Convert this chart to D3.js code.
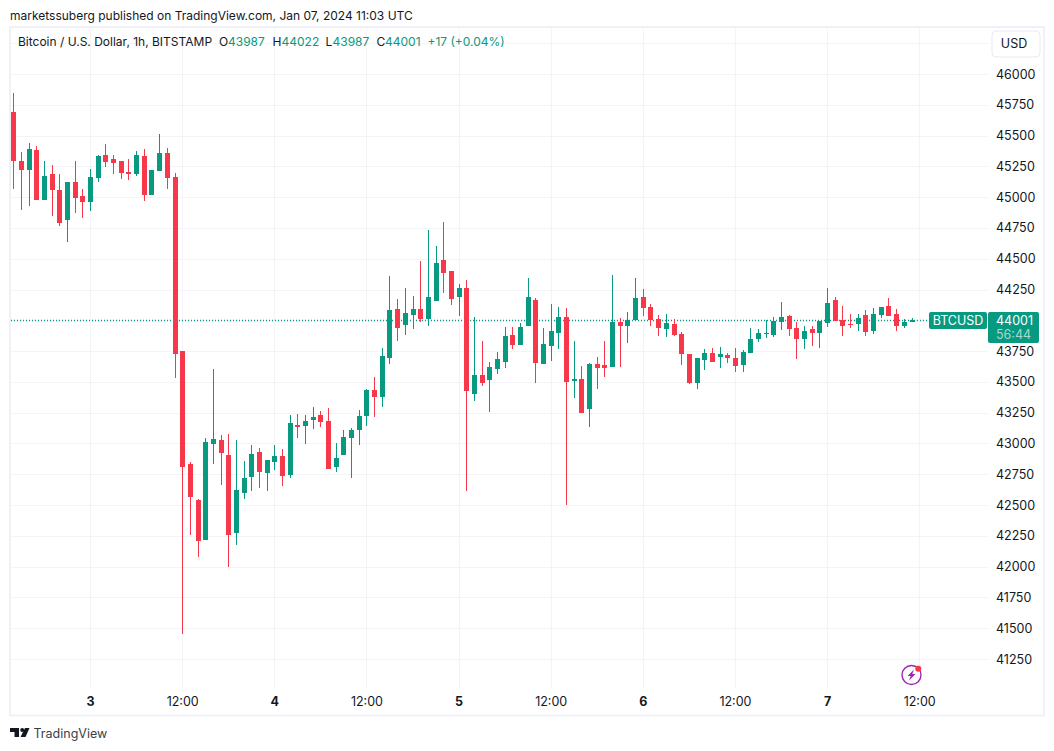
<!DOCTYPE html>
<html>
<head>
<meta charset="utf-8">
<title>BTCUSD 1h</title>
<script src="https://cdn.jsdelivr.net/npm/d3@7"></script>
<style>
    html, body { margin: 0; padding: 0; background: #fff; }
    svg { display: block; }
    text { font-family: Inter, "Noto Sans", sans-serif; }
</style>
</head>
<body>
<div id="chart"></div>
<script>
// hourly candles, Jan 2 14:00 to Jan 7 11:00
var opens = [45691, 45293, 45220, 45383, 44977, 45188, 45058, 44814, 45123, 45009,
    44960, 45155, 45342, 45310, 45293, 45204, 45188, 45334, 45017, 45212,
    45358, 45164, 43751, 42833, 42541, 42216, 42995, 43028, 42906, 42273,
    42597, 42727, 42930, 42760, 42849, 42898, 42744, 43150, 43142, 43190,
    43231, 43182, 42809, 42906, 43044, 43109, 43223, 43434, 43377, 43694,
    44092, 43962, 44043, 44092, 44010, 44157, 44490, 44400, 44189, 44262,
    43401, 43556, 43515, 43604, 43661, 43880, 43799, 43954, 44165, 43645,
    43791, 43897, 44027, 43507, 43523, 43280, 43645, 43637, 43621, 43986,
    43954, 44002, 44189, 44108, 44010, 43929, 43970, 43889, 43726, 43491,
    43677, 43734, 43702, 43718, 43694, 43637, 43734, 43848, 43888, 43880,
    43986, 44035, 43937, 43848, 43929, 43897, 43978, 44165, 44002, 43970,
    43970, 44043, 43913, 44043, 44116, 44051, 43953, 43987];
var highs = [45846, 45366, 45440, 45415, 45293, 45261, 45188, 45123, 45293, 45066,
    45228, 45342, 45432, 45342, 45293, 45310, 45375, 45391, 45220, 45513,
    45399, 45196, 43751, 42849, 42549, 43044, 43604, 43068, 43077, 43028,
    42857, 42987, 42963, 42865, 42987, 42955, 43231, 43239, 43231, 43296,
    43263, 43288, 43004, 43109, 43125, 43272, 43442, 43540, 43775, 44360,
    44173, 44262, 44197, 44481, 44733, 44603, 44798, 44400, 44295, 44327,
    44027, 43832, 43661, 43742, 43945, 43945, 43978, 44343, 44181, 43937,
    44132, 44108, 44100, 43832, 43629, 43653, 43702, 43832, 44368, 44019,
    44067, 44343, 44254, 44132, 44043, 44051, 44010, 43905, 43726, 43694,
    43767, 43775, 43783, 43734, 43775, 43759, 43937, 43929, 44002, 44027,
    44148, 44043, 43986, 43953, 43953, 43994, 44262, 44189, 44116, 44051,
    44051, 44083, 44100, 44108, 44181, 44091, 44010, 44022];
var lows = [45066, 44896, 44928, 44977, 44977, 44847, 44766, 44636, 44871, 44830,
    44887, 45123, 45245, 45188, 45147, 45139, 45172, 44969, 45017, 45212,
    45066, 43532, 41452, 42256, 42078, 42216, 42833, 42662, 41996, 42175,
    42549, 42614, 42638, 42614, 42784, 42654, 42719, 43044, 42995, 43117,
    43133, 42792, 42768, 42906, 42719, 42987, 43142, 43215, 43296, 43645,
    43832, 43880, 43929, 43986, 43954, 44157, 44222, 44124, 44035, 42614,
    43344, 43466, 43255, 43564, 43612, 43767, 43799, 43954, 43491, 43645,
    43669, 43767, 42500, 43369, 43247, 43133, 43442, 43539, 43621, 43621,
    43816, 44002, 44035, 43954, 43872, 43864, 43872, 43637, 43483, 43442,
    43596, 43661, 43612, 43653, 43580, 43580, 43734, 43824, 43856, 43864,
    43921, 43872, 43685, 43767, 43791, 43775, 43945, 43994, 43872, 43937,
    43913, 43872, 43888, 44018, 44035, 43913, 43937, 43987];
var closes = [45293, 45220, 45391, 44977, 45172, 45058, 44790, 45123, 44993, 44960,
    45164, 45334, 45285, 45277, 45196, 45188, 45342, 45017, 45220, 45358,
    45155, 43726, 42809, 42565, 42208, 43012, 43036, 42922, 42256, 42622,
    42719, 42914, 42768, 42865, 42898, 42736, 43166, 43133, 43182, 43215,
    43174, 42792, 42882, 43052, 43109, 43223, 43434, 43377, 43710, 44083,
    43937, 44059, 44092, 44010, 44189, 44465, 44384, 44173, 44262, 43426,
    43556, 43491, 43621, 43686, 43872, 43799, 43945, 44189, 43653, 43807,
    43913, 44027, 43499, 43523, 43247, 43645, 43613, 43613, 43986, 43954,
    44002, 44181, 44100, 44002, 43937, 43978, 43881, 43726, 43491, 43694,
    43734, 43661, 43726, 43694, 43629, 43742, 43848, 43897, 43897, 43994,
    44027, 43929, 43848, 43913, 43897, 43994, 44140, 43994, 43953, 43962,
    44018, 43905, 44051, 44108, 44035, 43953, 43986, 44001];

// axis labels, 44000 sits under the last price tag and has no label
var priceTicks = [46000, 45750, 45500, 45250, 45000, 44750, 44500, 44250,
    43750, 43500, 43250, 43000, 42750, 42500, 42250, 42000, 41750, 41500, 41250];
var priceGrid = [46250, 44000].concat(priceTicks);
var timeBars = [10, 22, 34, 46, 58, 70, 82, 94, 106, 118];
var timeLabels = ["3", "12:00", "4", "12:00", "5", "12:00", "6", "12:00", "7", "12:00"];

var lastPrice = 44001;
var upColor = "#089981";
var downColor = "#f6384a";
var frameColor = "#f0f1f7";
var gridColor = "#f3f4f8";
var textColor = "#131722";

var width = 1054, height = 751;
var paneRight = 988, paneBottom = 688;

var x = d3.scaleLinear().domain([0, 117]).range([13.3, 911.5]);
var y = d3.scaleLinear().domain([46000, 41250]).range([74, 659]);

function appendSVG(id) {
    return d3.select("#" + id)
        .append("svg")
        .attr("width", width)
        .attr("height", height);
}

/**
 * Grid lines come from the axes, with the tick lines stretched over the pane.
 */
function drawAxes(svg) {
    var priceAxis = d3.axisRight(y)
        .tickValues(priceGrid)
        .tickSize(paneRight - 11)
        .tickPadding(8)
        .tickFormat(function (d) { return priceTicks.indexOf(d) < 0 ? "" : d; });

    var gy = svg.append("g")
        .attr("class", "price-axis")
        .attr("transform", "translate(11,0)")
        .call(priceAxis);
    gy.select(".domain").remove();
    gy.selectAll("line").attr("stroke", gridColor).attr("shape-rendering", "crispEdges");
    gy.selectAll("text")
        .attr("fill", textColor)
        .style("font-size", "12.5px");

    var timeAxis = d3.axisBottom(x)
        .tickValues(timeBars)
        .tickSize(paneBottom - 28)
        .tickPadding(9)
        .tickFormat(function (d, i) { return timeLabels[i]; });

    var gx = svg.append("g")
        .attr("class", "time-axis")
        .attr("transform", "translate(0,28)")
        .call(timeAxis);
    gx.select(".domain").remove();
    gx.selectAll("line").attr("stroke", gridColor).attr("shape-rendering", "crispEdges");
    gx.selectAll("text")
        .attr("fill", textColor)
        .style("font-size", "12.5px")
        .style("font-weight", function (d, i) { return timeLabels[i].length === 1 ? 700 : 400; });
}

function drawFrame(svg) {
    svg.append("rect")
        .attr("x", 10)
        .attr("y", 27)
        .attr("width", 1034)
        .attr("height", 688.5)
        .attr("fill", "none")
        .attr("stroke", frameColor)
        .attr("stroke-width", 2);
}

function drawLastPriceLine(svg) {
    svg.append("line")
        .attr("x1", 11)
        .attr("x2", paneRight)
        .attr("y1", Math.round(y(lastPrice)) + 0.5)
        .attr("y2", Math.round(y(lastPrice)) + 0.5)
        .attr("stroke", upColor)
        .attr("stroke-width", 1.3)
        .attr("stroke-dasharray", "1 2");
}

function drawCandles(svg) {
    var candles = svg.append("g")
        .attr("class", "candles")
        .selectAll("g")
        .data(opens)
        .join("g")
        .attr("fill", function (d, i) { return closes[i] >= d ? upColor : downColor; })
        .attr("shape-rendering", "crispEdges");

    candles.append("rect")
        .attr("x", function (d, i) { return Math.round(x(i)) - 0.5; })
        .attr("width", 1)
        .attr("y", function (d, i) { return y(highs[i]); })
        .attr("height", function (d, i) { return y(lows[i]) - y(highs[i]); });

    candles.append("rect")
        .attr("x", function (d, i) { return Math.round(x(i)) - 2.5; })
        .attr("width", 5)
        .attr("y", function (d, i) { return y(Math.max(d, closes[i])); })
        .attr("height", function (d, i) { return Math.max(1, Math.abs(y(d) - y(closes[i]))); });
}

function addText(svg, str, px, py, color, size) {
    return svg.append("text")
        .attr("x", px)
        .attr("y", py)
        .attr("dy", "0.35em")
        .attr("fill", color)
        .style("font-size", (size || 12.5) + "px")
        .text(str);
}

function drawHeader(svg) {
    addText(svg, "marketssuberg published on TradingView.com, Jan 07, 2024 11:03 UTC", 10, 15.5, textColor, 12);
    addText(svg, "Bitcoin / U.S. Dollar, 1h, BITSTAMP", 18, 42, textColor, 12);

    var legend = [["O", 219, textColor], ["43987", 228, upColor],
        ["H", 272.5, textColor], ["44022", 281.5, upColor],
        ["L", 325.5, textColor], ["43987", 332.5, upColor],
        ["C", 376.5, textColor], ["44001", 385, upColor],
        ["+17 (+0.04%)", 427.5, upColor]];
    legend.forEach(function (d) { addText(svg, d[0], d[1], 42, d[2], 12); });
}

function drawPriceLabels(svg) {
    // USD button
    svg.append("rect")
        .attr("x", 992)
        .attr("y", 31)
        .attr("width", 48)
        .attr("height", 26)
        .attr("rx", 4)
        .attr("fill", "#fff")
        .attr("stroke", "#e8eaf1");
    addText(svg, "USD", 1014, 44, textColor, 12.5).attr("text-anchor", "middle");

    // symbol and last price tags
    var top = Math.round(y(lastPrice)) - 8;
    svg.append("rect")
        .attr("x", 929)
        .attr("y", top)
        .attr("width", 58)
        .attr("height", 17)
        .attr("rx", 2)
        .attr("fill", upColor);
    addText(svg, "BTCUSD", 958, top + 8.5, "#fff", 12.5).attr("text-anchor", "middle");

    svg.append("rect")
        .attr("x", 988)
        .attr("y", top)
        .attr("width", 51)
        .attr("height", 31)
        .attr("rx", 2)
        .attr("fill", upColor);
    addText(svg, lastPrice, 996, top + 8.5, "#fff", 12.5);
    addText(svg, "56:44", 996, top + 22.5, "#a3d9ce", 12.5);
}

function drawBadge(svg) {
    var badge = svg.append("g").attr("transform", "translate(911.5,675)");
    badge.append("circle")
        .attr("r", 9.5)
        .attr("fill", "#fff")
        .attr("stroke", "#9c27b0")
        .attr("stroke-width", 1.4);
    badge.append("path")
        .attr("d", "M2.5,-5.5 L-4,1 L-0.8,1 L-2.5,5.5 L4,-1 L0.8,-1 Z")
        .attr("fill", "#9c27b0");
    badge.append("circle")
        .attr("cx", 6.8)
        .attr("cy", -6.3)
        .attr("r", 3)
        .attr("fill", downColor);
}

function drawFooter(svg) {
    var logo = svg.append("g").attr("transform", "translate(10,728)").attr("fill", "#131722");
    logo.append("path").attr("d", "M0,0 H9 V9 H4.5 V4 H0 Z");
    logo.append("circle").attr("cx", 12.2).attr("cy", 2).attr("r", 2);
    logo.append("path").attr("d", "M15,0 H19.5 L15.5,9 H10.5 Z");
    addText(svg, "TradingView", 33.5, 734, "#3a3e4a", 12.5);
}

function drawChart() {
    var svg = appendSVG("chart");
    drawAxes(svg);
    drawFrame(svg);
    drawLastPriceLine(svg);
    drawCandles(svg);
    drawHeader(svg);
    drawPriceLabels(svg);
    drawBadge(svg);
    drawFooter(svg);
}

drawChart();
</script>
</body>
</html>
